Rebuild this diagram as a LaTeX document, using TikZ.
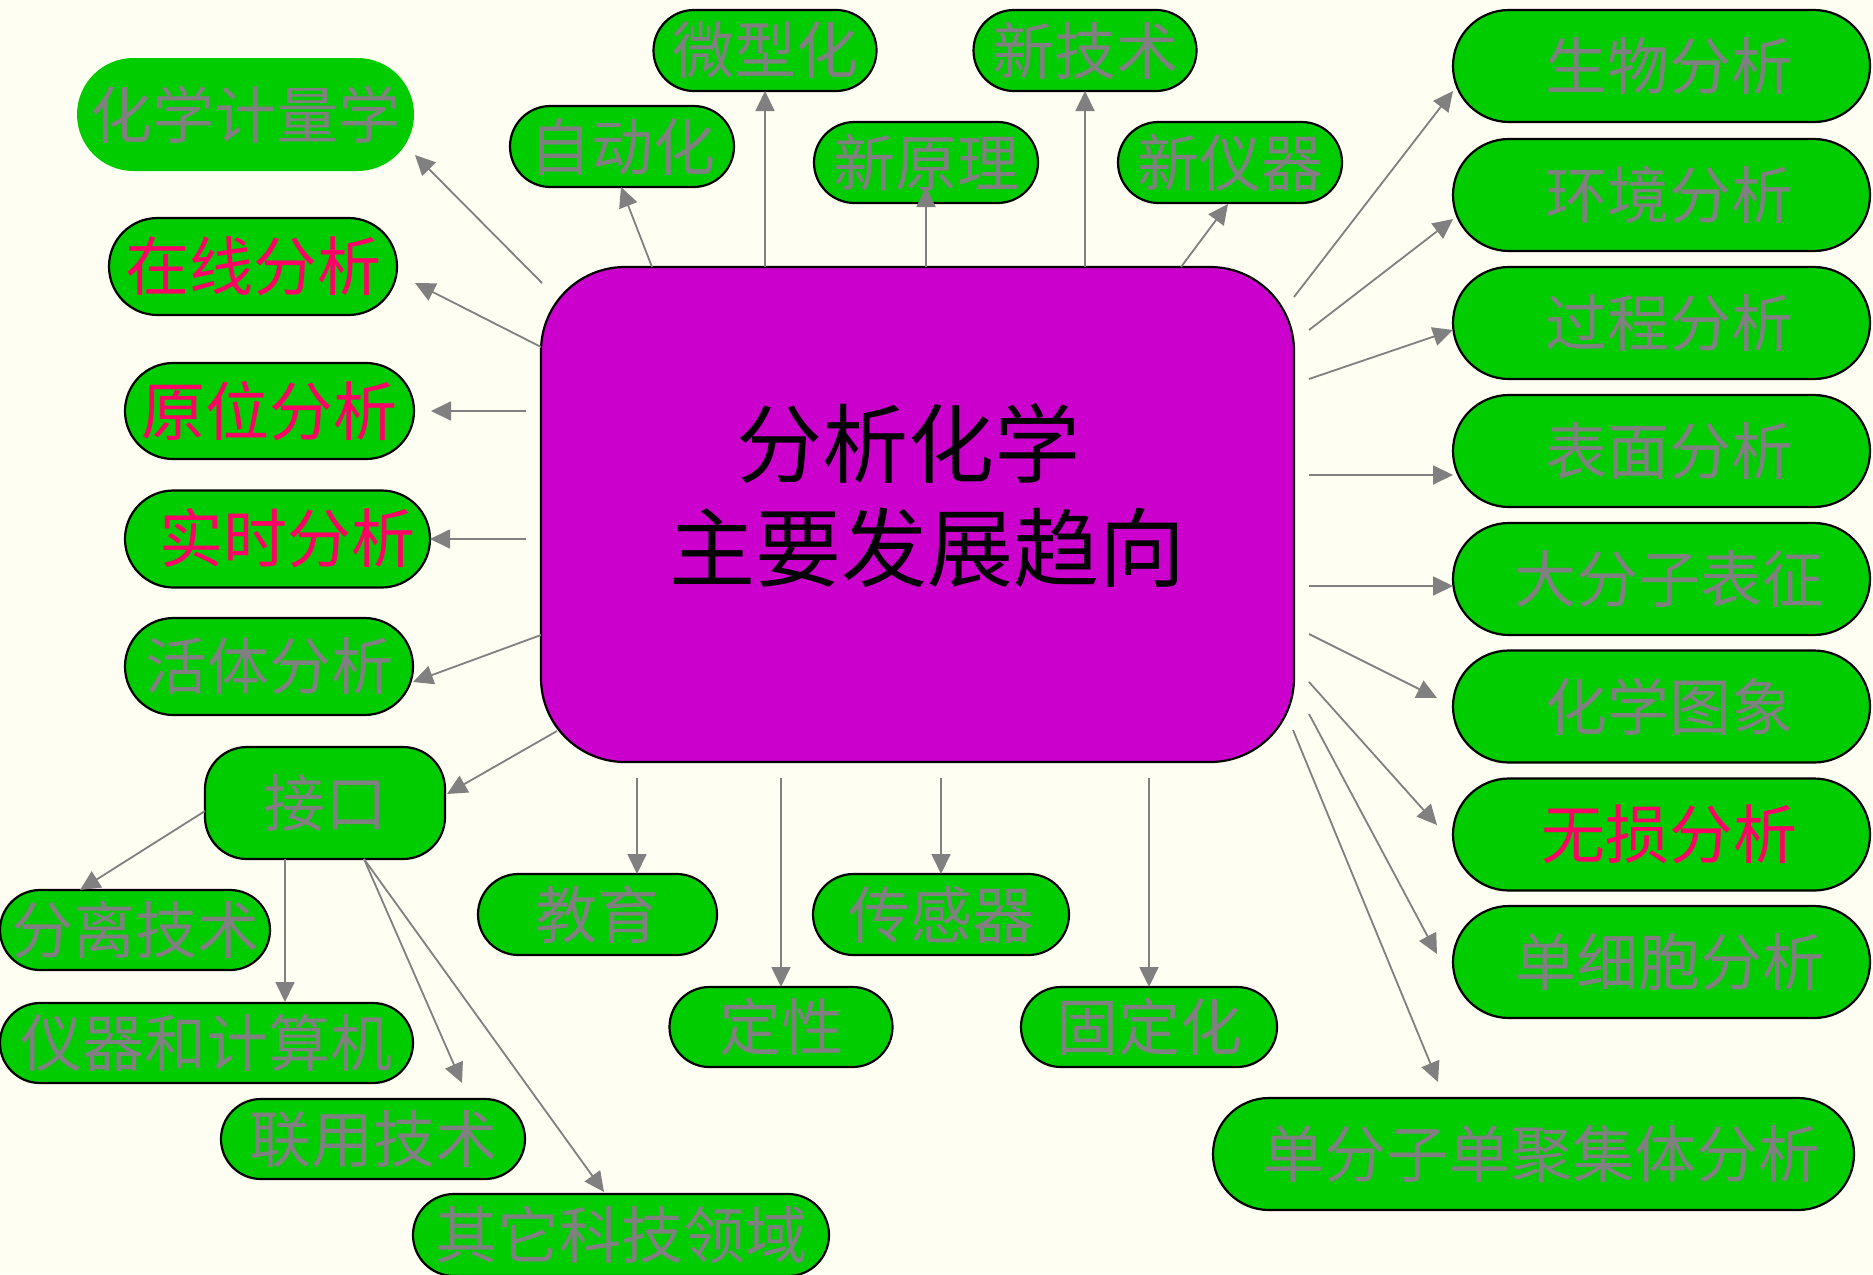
\documentclass[tikz,border=0pt]{standalone}
\usepackage{fontspec}
\newfontfamily\cjk{Noto Sans CJK SC}
\usetikzlibrary{arrows.meta,calc}
\definecolor{bg}{RGB}{254,254,242}
\definecolor{gr}{RGB}{0,204,0}
\definecolor{mag}{RGB}{204,0,204}
\definecolor{tg}{RGB}{128,128,128}
\definecolor{rd}{RGB}{255,0,102}
\tikzset{
  pill/.style n args={2}{rectangle, fill=gr, draw=black, line width=1.1pt,
    minimum width=#1*0.5pt, minimum height=#2*0.5pt, rounded corners=#2*0.25pt,
    inner sep=0pt, outer sep=0pt, text=tg, font=\cjk\fontsize{31}{31}\selectfont},
  hot/.style={text=rd, font=\cjk\fontsize{32}{32}\selectfont},
  arr/.style={draw=tg, line width=0.9pt, -{Triangle[length=10pt,width=9.5pt]}},
  centre/.style={rectangle, fill=mag, draw=black, line width=1.1pt, rounded corners=42pt,
    minimum width=376.5pt, minimum height=247.5pt, inner sep=0pt, outer sep=0pt},
  big/.style={text=black, font=\cjk\fontsize{43}{43}\selectfont, inner sep=0pt},
}
\begin{document}
\begin{tikzpicture}[x=0.5pt,y=-0.5pt]
\useasboundingbox (0,0) rectangle (1873,1274);
\fill[bg] (0,0) rectangle (1873,1274);

% centre
\node[centre] (c) at (917.5,514.5) {};
\node[big] (t1) at (908,444) {分析化学};
\node[big] (t2) at (927,548) {主要发展趋向};

% top
\node[pill={223}{81}] (wx)  at (765,50.5) {微型化};
\node[pill={224}{81}] (zd)  at (622,146.5)  {自动化};
\node[pill={224}{81}] (xyl) at (926,162.5)  {新原理};
\node[pill={223}{81}] (xjs) at (1085,50.5) {新技术};
\node[pill={224}{81}] (xyq) at (1230,162.5) {新仪器};

% left
\node[pill={337}{113}, draw=none] (hx) at (245.5,114.5) {化学计量学};
\node[pill={288}{97}, hot] (zx) at (253,266.5) {在线分析};
\node[pill={289}{96}, hot] (yw) at (269.5,411) {原位分析};
\node[pill={305}{97}, hot] (ss) at (277.5,539) {\raisebox{4pt}{\hspace{10pt}实时分析}};
\node[pill={288}{97}] (ht) at (269,666.5) {活体分析};
\node[pill={240}{112}, rounded corners=21pt] (jk) at (325,803) {接口};
\node[pill={270}{80}] (fl) at (135,930) {分离技术};
\node[pill={413}{80}] (yq) at (206.5,1043) {仪器和计算机};
\node[pill={304}{80}] (ly) at (373,1139) {联用技术};
\node[pill={416}{82}] (qt) at (621,1235) {其它科技领域};

% bottom
\node[pill={239}{81}] (jy) at (597.5,914.5) {教育};
\node[pill={256}{81}] (cg) at (941,914.5) {传感器};
\node[pill={223}{80}] (dx) at (781,1027) {定性};
\node[pill={256}{80}] (gd) at (1149,1027) {固定化};

% right
\node[pill={417}{112}] (r1) at (1661.5,66)    {\hspace{8pt}生物分析};
\node[pill={417}{112}] (r2) at (1661.5,195)   {\hspace{8pt}环境分析};
\node[pill={417}{112}] (r3) at (1661.5,323)   {\hspace{8pt}过程分析};
\node[pill={417}{112}] (r4) at (1661.5,451)   {\hspace{8pt}表面分析};
\node[pill={417}{112}] (r5) at (1661.5,579)   {\hspace{8pt}大分子表征};
\node[pill={417}{112}] (r6) at (1661.5,706.5) {\hspace{8pt}化学图象};
\node[pill={417}{112}, hot] (r7) at (1661.5,834.5) {\hspace{8pt}无损分析};
\node[pill={417}{112}] (r8) at (1661.5,962)   {\hspace{8pt}单细胞分析};
\node[pill={641}{112}] (r9) at (1533.5,1154)  {\hspace{8pt}单分子单聚集体分析};

% connectors: left
\draw[arr] ([shift={(1,16)}]c.north west) -- ([shift={(1,-16)}]hx.south east);
\draw[arr] ([shift={(0,80)}]c.north west) -- ([shift={(18,16.5)}]zx.east);
\draw[arr] ([shift={(-15,-103.5)}]c.west) -- ([shift={(17,0)}]yw.east);
\draw[arr] ([shift={(-15,24.5)}]c.west) -- (ss.east);
\draw[arr] ([shift={(0,120.5)}]c.west) -- ([shift={(0,15.5)}]ht.east);
\draw[arr] ([shift={(16,-31)}]c.south west) -- ([shift={(2,-9)}]jk.east);
% from interface
\draw[arr] ([shift={(0,8)}]jk.west) -- ([shift={(80,0)}]fl.north west);
\draw[arr] ([shift={(-40,0)}]jk.south) -- ([shift={(78.5,-1)}]yq.north);
\draw[arr] ([shift={(39,0)}]jk.south) -- ([shift={(89,-16)}]ly.north);
\draw[arr] ([shift={(39,0)}]jk.south) -- ([shift={(-17,-2)}]qt.north);
% top
\draw[arr] ([shift={(111,0)}]c.north west) -- ([shift={(-1,0)}]zd.south);
\draw[arr] ([shift={(224,0)}]c.north west) -- (wx.south);
\draw[arr] ([shift={(8.5,0)}]c.north) -- ([shift={(0,-16)}]xyl.south);
\draw[arr] ([shift={(-209,0)}]c.north east) -- (xjs.south);
\draw[arr] ([shift={(-113,0)}]c.north east) -- ([shift={(-2,1)}]xyq.south);
% bottom
\draw[arr] ([shift={(96,16)}]c.south west) -- ([shift={(39.5,0)}]jy.north);
\draw[arr] ([shift={(240,16)}]c.south west) -- (dx.north);
\draw[arr] ([shift={(400,16)}]c.south west) -- (cg.north);
\draw[arr] ([shift={(-145,16)}]c.south east) -- (gd.north);
% right
\draw[arr] ([shift={(0,30)}]c.north east) -- ([shift={(0,25)}]r1.west);
\draw[arr] ([shift={(15,63)}]c.north east) -- ([shift={(0,24)}]r2.west);
\draw[arr] ([shift={(15,112)}]c.north east) -- ([shift={(0,7)}]r3.west);
\draw[arr] ([shift={(15,-39.5)}]c.east) -- ([shift={(0,24)}]r4.west);
\draw[arr] ([shift={(15,71.5)}]c.east) -- ([shift={(0,7)}]r5.west);
\draw[arr] ([shift={(15,-128)}]c.south east) -- ([shift={(-16,-8.5)}]r6.west);
\draw[arr] ([shift={(15,-80)}]c.south east) -- ([shift={(-16,-9.5)}]r7.west);
\draw[arr] ([shift={(15,-48)}]c.south east) -- ([shift={(-16,-8)}]r8.west);
\draw[arr] ([shift={(-1,-32)}]c.south east) -- ([shift={(225,-16)}]r9.north west);
\end{tikzpicture}
\end{document}
